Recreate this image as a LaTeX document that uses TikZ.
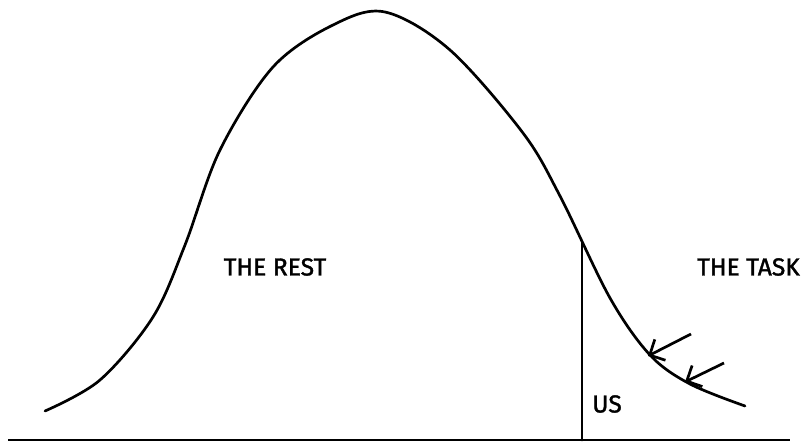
\documentclass[tikz,border=0pt]{standalone}
\usepackage{fontspec}
\setmainfont{Fira Sans}[FakeBold=1.5]
\usepackage{tikz}
\usetikzlibrary{arrows.meta}

\begin{document}
\begin{tikzpicture}[x=0.03cm, y=-0.03cm,
    curve/.style={line width=2.3pt, line cap=round, line join=round},
    base/.style={line width=2.2pt},
    lbl/.style={font=\fontsize{21}{24}\selectfont, inner sep=0pt},
    arr/.style={line width=2.3pt, -{Straight Barb[length=10pt, width=20pt, line width=2.3pt]}}]

  \useasboundingbox (0,0) rectangle (804,447);

  % the bell curve
  \draw[curve] plot[smooth, tension=0.55] coordinates {
      (45,411) (100,380) (153,317) (185,245) (220,150) (273,67)
      (333,25) (385,12) (450,50) (523,133) (560,196)
      (610,298) (650,355) (690,384) (745,406)};

  \coordinate (cut) at (582,242);
  \coordinate (foot) at (582,440);
  \coordinate (left) at (8,440);
  \coordinate (right) at (790,440);
  \coordinate (hitA) at (648,356);
  \coordinate (hitB) at (685,382);
  \coordinate (tailA) at (691,334);
  \coordinate (tailB) at (724,363);

  \draw[base] (left) -- (right);
  \draw[curve] (foot) -- (cut);

  \node[lbl] (rest) at (275,267) {THE REST};
  \node[lbl, anchor=east] (task) at (800,267) {THE TASK};
  \node[lbl] (us) at (607,404) {US};

  \draw[arr] (tailA) -- (hitA);
  \draw[arr] (tailB) -- (hitB);
\end{tikzpicture}
\end{document}
